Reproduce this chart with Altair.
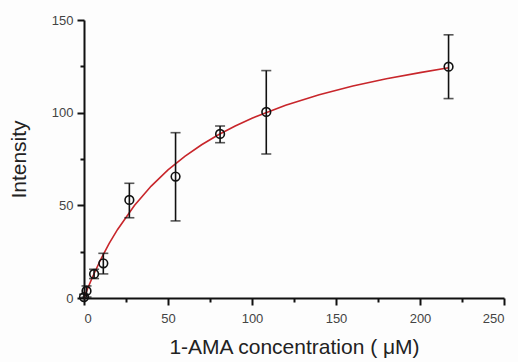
import altair as alt
import pandas as pd

# measured points (x: µM, y: intensity, error bar low/high)
conc = [0, 1.5, 6, 11.5, 27, 54.5, 81, 108.5, 217]
inten = [0.5, 3.8, 13, 18.7, 52.9, 65.5, 88.5, 100.4, 124.8]
err_lo = [0, 0.5, 10.5, 13, 43.3, 41.6, 83.8, 77.7, 107.6]
err_hi = [2, 6.5, 15.5, 24.1, 61.9, 89.2, 92.8, 122.7, 142]

# fitted curve
fit_x = [0, 2, 5, 10, 15, 20, 30, 40, 50, 60, 70, 80, 90, 100, 120, 140, 160, 180, 200, 217]
fit_y = [0, 4.7, 11.2, 20.9, 29.5, 37.0, 49.9, 60.4, 69.1, 76.4, 82.7, 88.1, 92.8, 97.0,
         104.0, 109.7, 114.4, 118.3, 121.6, 124.2]

x_ticks = [0, 25, 50, 75, 100, 125, 150, 175, 200, 225, 250]
y_ticks = [0, 25, 50, 75, 100, 125, 150]

pts = pd.DataFrame({"x": conc, "y": inten, "lo": err_lo, "hi": err_hi})
fit = pd.DataFrame({"x": fit_x, "y": fit_y})

FONT = "Liberation Sans"

xscale = alt.Scale(domain=[0, 250], nice=False, zero=False)
yscale = alt.Scale(domain=[0, 150], nice=False, zero=False)

xaxis = alt.Axis(
    values=x_ticks,
    labelExpr="datum.value % 50 === 0 ? datum.label : ''",
    title="1-AMA concentration ( μM)",
    grid=False,
    domainColor="#111", domainWidth=2,
    tickColor="#111", tickWidth=2,
    tickSize={"condition": {"test": "datum.value % 50 === 0", "value": 7}, "value": 4},
    labelFont=FONT, labelFontSize=13, labelColor="#444", labelPadding=7,
    titleFont=FONT, titleFontSize=21, titleFontWeight="normal", titleColor="#222",
    titlePadding=11,
)
yaxis = alt.Axis(
    values=y_ticks,
    labelExpr="datum.value % 50 === 0 ? datum.label : ''",
    title="Intensity",
    grid=False,
    domainColor="#111", domainWidth=2,
    tickColor="#111", tickWidth=2,
    tickSize={"condition": {"test": "datum.value % 50 === 0", "value": 7}, "value": 4},
    labelFont=FONT, labelFontSize=13, labelColor="#444", labelPadding=4,
    titleFont=FONT, titleFontSize=21, titleFontWeight="normal", titleColor="#222",
    titlePadding=22,
)

curve = alt.Chart(fit).mark_line(color="#c8262b", strokeWidth=1.6).encode(
    x=alt.X("x:Q", scale=xscale, axis=xaxis),
    y=alt.Y("y:Q", scale=yscale, axis=yaxis),
)

bars = alt.Chart(pts).mark_rule(color="#111", strokeWidth=1.6).encode(
    x="x:Q", y="lo:Q", y2="hi:Q"
)
cap_lo = alt.Chart(pts).mark_tick(color="#111", thickness=1.6, size=10, orient="horizontal").encode(
    x="x:Q", y="lo:Q"
)
cap_hi = alt.Chart(pts).mark_tick(color="#111", thickness=1.6, size=10, orient="horizontal").encode(
    x="x:Q", y="hi:Q"
)
dots = alt.Chart(pts).mark_point(
    shape="circle", size=75, filled=False, color="#111", strokeWidth=1.6, opacity=1
).encode(x="x:Q", y="y:Q")

chart = alt.layer(curve, bars, cap_lo, cap_hi, dots).properties(
    width=420,
    height=278,
    autosize=alt.AutoSizeParams(type="none"),
    padding={"left": 84, "top": 20, "right": 14, "bottom": 64},
    background="#fdfdfd",
).configure_view(stroke=None)

chart.save("out.html", embed_options={"renderer": "svg", "actions": False})
